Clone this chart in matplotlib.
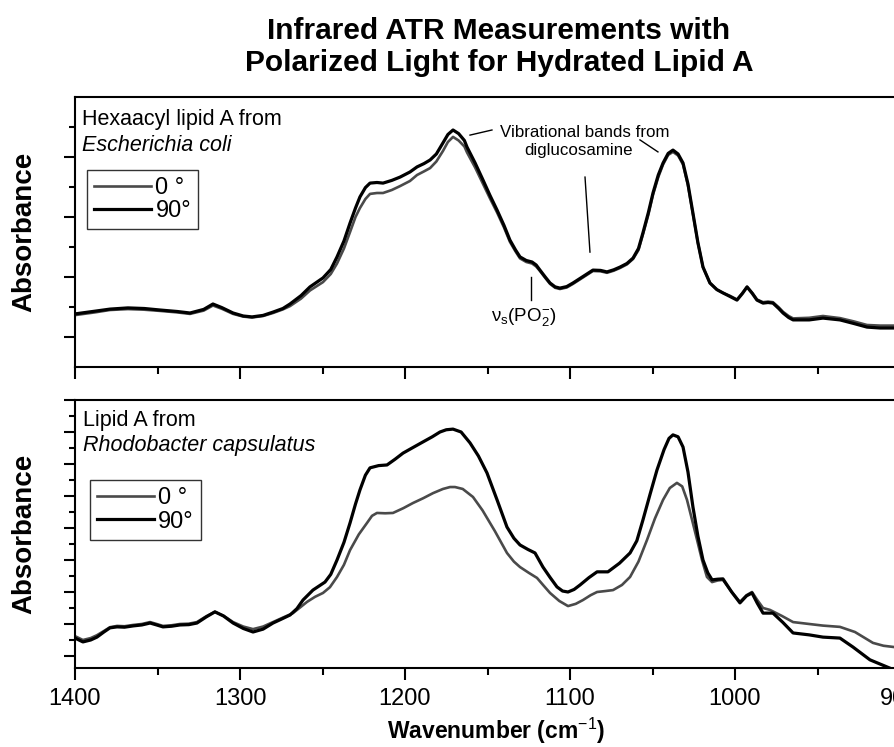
import matplotlib
matplotlib.use("Agg")
import matplotlib.pyplot as plt
from matplotlib.ticker import MultipleLocator

plt.rcParams['font.family'] = ['Liberation Sans', 'DejaVu Sans']
plt.rcParams['mathtext.fontset'] = 'custom'
plt.rcParams['mathtext.rm'] = 'Liberation Sans'
plt.rcParams['mathtext.it'] = 'Liberation Sans:italic'
plt.rcParams['mathtext.bf'] = 'Liberation Sans:bold'

# --- данные (волновое число, см^-1; поглощение, усл. ед.) ---
# Верхняя панель: гексаацил-липид A из E. coli
wn_top = [1400, 1388, 1378.8, 1367.9, 1358, 1348.5, 1338, 1330.3, 1322, 1316.4,
          1311, 1304.2, 1298, 1292.7, 1286, 1280.0, 1274, 1269.7, 1263, 1257.6,
          1249.7, 1245, 1241.2, 1237, 1233.3, 1230, 1227.3, 1224, 1221.2, 1217,
          1213.3, 1208, 1203.0, 1197, 1192.7, 1188.5, 1184.8, 1181, 1177.0, 1174,
          1170.9, 1167.5, 1164, 1162.4, 1157.5, 1152.7, 1148.5, 1144.2, 1140, 1136.4,
          1133, 1130.3, 1126.5, 1123.0, 1120.5, 1118.2, 1115, 1112.1, 1109, 1106.1,
          1102, 1098.2, 1092, 1086.1, 1081.5, 1077.6, 1073.5, 1069.7, 1065.5, 1061.8,
          1058.5, 1055.8, 1052.5, 1049.7, 1046.5, 1043.6, 1040.5, 1037.6, 1034.5, 1031.5,
          1028.5, 1025.5, 1022.5, 1019.4, 1015.2, 1011, 1007.3, 1003, 998.8, 995.5,
          992.7, 989.5, 986.7, 983.0, 980, 977.0, 973.5, 970.9, 967.5, 964.8,
          955, 946.7, 936.4, 928, 920.0, 912, 903.6]
top_90 = [1.77, 1.86, 1.93, 1.97, 1.95, 1.90, 1.85, 1.80, 1.92, 2.10,
          1.98, 1.80, 1.70, 1.67, 1.72, 1.83, 1.95, 2.10, 2.38, 2.67,
          2.97, 3.25, 3.67, 4.20, 4.80, 5.30, 5.67, 5.98, 6.13, 6.15,
          6.13, 6.22, 6.33, 6.50, 6.67, 6.78, 6.90, 7.10, 7.47, 7.75,
          7.90, 7.78, 7.55, 7.33, 6.80, 6.23, 5.72, 5.23, 4.72, 4.23,
          3.90, 3.67, 3.55, 3.50, 3.40, 3.23, 3.00, 2.80, 2.67, 2.63,
          2.68, 2.80, 3.02, 3.23, 3.22, 3.17, 3.24, 3.33, 3.45, 3.63,
          3.95, 4.47, 5.15, 5.80, 6.40, 6.80, 7.12, 7.23, 7.10, 6.80,
          6.10, 5.13, 4.15, 3.33, 2.80, 2.58, 2.47, 2.35, 2.23, 2.45,
          2.67, 2.45, 2.23, 2.13, 2.15, 2.13, 1.95, 1.80, 1.65, 1.57,
          1.57, 1.63, 1.57, 1.45, 1.33, 1.30, 1.30]
top_0 = [1.73, 1.82, 1.90, 1.93, 1.91, 1.87, 1.82, 1.77, 1.88, 2.05,
         1.94, 1.77, 1.68, 1.65, 1.70, 1.80, 1.92, 2.03, 2.28, 2.55,
         2.83, 3.10, 3.45, 3.95, 4.50, 5.00, 5.30, 5.60, 5.77, 5.80,
         5.80, 5.90, 6.03, 6.20, 6.40, 6.52, 6.63, 6.85, 7.20, 7.50,
         7.67, 7.55, 7.35, 7.15, 6.65, 6.10, 5.62, 5.15, 4.65, 4.17,
         3.85, 3.62, 3.50, 3.45, 3.35, 3.20, 2.97, 2.77, 2.64, 2.60,
         2.65, 2.77, 2.99, 3.20, 3.19, 3.14, 3.21, 3.30, 3.42, 3.60,
         3.90, 4.42, 5.08, 5.74, 6.33, 6.75, 7.07, 7.17, 7.05, 6.75,
         6.05, 5.10, 4.14, 3.33, 2.80, 2.58, 2.47, 2.37, 2.25, 2.47,
         2.67, 2.47, 2.25, 2.16, 2.18, 2.16, 1.99, 1.84, 1.70, 1.62,
         1.64, 1.70, 1.63, 1.52, 1.40, 1.38, 1.38]

# Нижняя панель: липид A из Rhodobacter capsulatus
wn_bot_90 = [1400, 1395.2, 1390.5, 1386.7, 1382.5, 1378.8, 1374.5, 1370, 1364.8, 1359.5,
             1354.5, 1350.5, 1346.7, 1341.5, 1336.4, 1331, 1326.1, 1320.5, 1315.2, 1310,
             1304.2, 1298, 1292.1, 1286, 1280.0, 1275, 1269.7, 1265.5, 1261.8, 1255.8,
             1248.5, 1245, 1241.2, 1237, 1233.3, 1230, 1227.3, 1224, 1221.2, 1216,
             1210.9, 1206, 1201.2, 1195, 1189.1, 1183.5, 1178.8, 1175, 1170.9, 1166,
             1160.6, 1155.5, 1150.3, 1144, 1138.2, 1134, 1130.3, 1125.5, 1121.2, 1116.4,
             1112, 1107.9, 1104.5, 1101.2, 1097.5, 1093.9, 1088.5, 1083.6, 1077.0, 1070,
             1063.6, 1059.5, 1055.8, 1051.5, 1047.3, 1043, 1040, 1037.6, 1034.5, 1031.5,
             1028.5, 1025.5, 1022.5, 1019.4, 1016.5, 1013.9, 1010.5, 1007.3, 1002, 997.0,
             993, 989.7, 986.5, 983.0, 977.0, 971, 964.8, 955, 946.7, 936.4,
             928.5, 918.2, 906.1, 903.6]
bot_90 = [0.56, 0.44, 0.50, 0.59, 0.75, 0.88, 0.91, 0.90, 0.94, 0.97,
          1.03, 0.97, 0.91, 0.93, 0.97, 0.98, 1.03, 1.22, 1.38, 1.25,
          1.03, 0.86, 0.75, 0.84, 1.03, 1.15, 1.28, 1.48, 1.75, 2.06,
          2.31, 2.55, 3.00, 3.55, 4.16, 4.75, 5.19, 5.65, 5.88, 5.95,
          5.97, 6.15, 6.34, 6.52, 6.69, 6.85, 7.00, 7.07, 7.09, 7.00,
          6.66, 6.25, 5.72, 4.85, 4.03, 3.68, 3.47, 3.33, 3.22, 2.78,
          2.45, 2.16, 2.03, 2.00, 2.08, 2.22, 2.45, 2.63, 2.63, 2.90,
          3.22, 3.60, 4.25, 5.05, 5.81, 6.45, 6.80, 6.91, 6.85, 6.53,
          5.75, 4.66, 3.75, 3.00, 2.60, 2.38, 2.40, 2.41, 2.00, 1.66,
          1.88, 1.97, 1.65, 1.34, 1.34, 1.05, 0.72, 0.66, 0.59, 0.56,
          0.28, -0.12, -0.38, -0.44]
wn_bot_0 = [1400, 1395.2, 1390.5, 1386.7, 1382.5, 1378.8, 1374.5, 1370, 1364.8, 1359.5,
            1354.5, 1350.5, 1346.7, 1341.5, 1336.4, 1331, 1326.1, 1320.5, 1315.2, 1310,
            1304.2, 1298, 1292.1, 1286, 1280.0, 1274, 1267.9, 1263.5, 1259.4, 1254.5,
            1249.7, 1245.5, 1241.2, 1237, 1233.3, 1228, 1223.0, 1220, 1217.0, 1212,
            1207.3, 1201, 1195.2, 1189, 1183.0, 1177, 1172.7, 1169.7, 1165, 1158.8,
            1153, 1145.5, 1138.2, 1134, 1130.3, 1125, 1120.0, 1116, 1112.1, 1106.5,
            1101.2, 1096.5, 1092.1, 1087.5, 1083.6, 1078.5, 1073.9, 1068.5, 1063.6, 1058.5,
            1053.3, 1048.5, 1043.6, 1039.5, 1035.2, 1032, 1029.1, 1026, 1023.0, 1020,
            1017.0, 1013.9, 1010.5, 1007.3, 1002, 997.0, 993, 989.7, 986.5, 983.0,
            978.8, 971.5, 964.8, 955, 946.7, 936.4, 927.3, 916.4, 910, 903.6]
bot_0 = [0.62, 0.50, 0.56, 0.65, 0.78, 0.90, 0.94, 0.93, 0.97, 1.00,
         1.06, 1.00, 0.94, 0.96, 1.00, 1.01, 1.06, 1.24, 1.38, 1.26,
         1.06, 0.92, 0.84, 0.92, 1.06, 1.20, 1.34, 1.52, 1.69, 1.85,
         1.97, 2.15, 2.47, 2.85, 3.31, 3.80, 4.16, 4.38, 4.47, 4.46,
         4.47, 4.62, 4.78, 4.93, 5.09, 5.22, 5.28, 5.28, 5.22, 4.97,
         4.55, 3.90, 3.22, 2.95, 2.78, 2.60, 2.44, 2.20, 1.97, 1.72,
         1.56, 1.63, 1.75, 1.90, 2.00, 2.03, 2.06, 2.22, 2.47, 2.95,
         3.63, 4.30, 4.88, 5.25, 5.41, 5.30, 4.88, 4.25, 3.63, 3.00,
         2.47, 2.31, 2.36, 2.38, 2.00, 1.69, 1.90, 2.00, 1.75, 1.50,
         1.44, 1.25, 1.06, 1.00, 0.95, 0.91, 0.75, 0.41, 0.32, 0.28]

labels = ['0 °', '90°']

W, H = 894, 747
fig = plt.figure(figsize=(W / 100, H / 100), dpi=100)

left = 75 / W
width = 825 / W
ax_top = fig.add_axes([left, (H - 367) / H, width, 270 / H])
ax_bot = fig.add_axes([left, (H - 668) / H, width, 268 / H])

GRAY = '#4a4a4a'
for ax, x0, y0, x90, y90 in [(ax_top, wn_top, top_0, wn_top, top_90),
                             (ax_bot, wn_bot_0, bot_0, wn_bot_90, bot_90)]:
    ax.plot(x0, y0, color=GRAY, lw=1.9, solid_joinstyle='round', label=labels[0])
    ax.plot(x90, y90, color='black', lw=2.3, solid_joinstyle='round', label=labels[1])
    ax.set_xlim(1400, 900)
    for s in ax.spines.values():
        s.set_linewidth(1.5)
    ax.xaxis.set_major_locator(MultipleLocator(100))
    ax.xaxis.set_minor_locator(MultipleLocator(50))
    ax.tick_params(axis='x', which='major', direction='out', length=8.5, width=1.5,
                   labelsize=17, pad=6)
    ax.tick_params(axis='x', which='minor', direction='out', length=5, width=1.5)
    ax.tick_params(axis='y', which='major', direction='out', length=8, width=1.5,
                   labelleft=False)
    ax.tick_params(axis='y', which='minor', direction='out', length=4.3, width=1.5)
    ax.text(-0.062, 0.5, 'Absorbance', transform=ax.transAxes, rotation=90,
            ha='center', va='center', fontsize=20, fontweight='bold')
    leg = ax.legend(loc='upper left', frameon=True, fancybox=False, fontsize=17,
                    handlelength=2.4, handletextpad=0.2, borderpad=0.3,
                    labelspacing=0.05, borderaxespad=0)
    leg.get_frame().set_edgecolor('black')
    leg.get_frame().set_linewidth(1.0)

ax_top.set_ylim(0, 9)
ax_top.set_yticks([1, 3, 5, 7])
ax_top.set_yticks([2, 4, 6, 8], minor=True)
ax_top.tick_params(axis='x', labelbottom=False)
ax_top.get_legend().set_bbox_to_anchor((0.0145, 0.73), transform=ax_top.transAxes)

ax_bot.set_ylim(-0.375, 8)
ax_bot.yaxis.set_major_locator(MultipleLocator(1))
ax_bot.yaxis.set_minor_locator(MultipleLocator(0.5))
ax_bot.get_legend().set_bbox_to_anchor((0.018, 0.70), transform=ax_bot.transAxes)

# подписи образцов
ax_top.text(0.009, 0.915, 'Hexaacyl lipid A from', transform=ax_top.transAxes,
            fontsize=15.5, va='center')
ax_top.text(0.009, 0.822, 'Escherichia coli', transform=ax_top.transAxes,
            fontsize=15.5, va='center', style='italic')
ax_bot.text(0.010, 0.925, 'Lipid A from', transform=ax_bot.transAxes,
            fontsize=15.5, va='center')
ax_bot.text(0.010, 0.832, 'Rhodobacter capsulatus', transform=ax_bot.transAxes,
            fontsize=15.5, va='center', style='italic')

# аннотации полос
ax_top.text(1091, 7.83, 'Vibrational bands from', fontsize=12.2, ha='center', va='center')
ax_top.text(1095, 7.2, 'diglucosamine', fontsize=12.2, ha='center', va='center')
ax_top.plot([1160.6, 1147.3], [7.73, 7.9], color='black', lw=1.0)
ax_top.plot([1057.6, 1046.7], [7.57, 7.17], color='black', lw=1.0)
ax_top.plot([1090.9, 1087.9], [6.33, 3.83], color='black', lw=1.0)
ax_top.plot([1123.6, 1123.6], [3.0, 2.23], color='black', lw=1.0)
ax_top.text(1128, 1.65, r'$\mathrm{\nu}_\mathrm{s}$(PO$_2^{\mathrm{-}}$)', fontsize=13.5,
            ha='center', va='center')

# заголовок и подпись оси
fig.text(499 / W, 1 - 31 / H, 'Infrared ATR Measurements with', ha='center',
         va='center', fontsize=21.5, fontweight='bold')
fig.text(499 / W, 1 - 63 / H, 'Polarized Light for Hydrated Lipid A', ha='center',
         va='center', fontsize=21.5, fontweight='bold')
fig.text(496 / W, 1 - 731 / H, r'Wavenumber (cm$^{\mathrm{-1}}$)', ha='center',
         va='center', fontsize=16.5, fontweight='bold')

fig.savefig('out.png', dpi=100)
